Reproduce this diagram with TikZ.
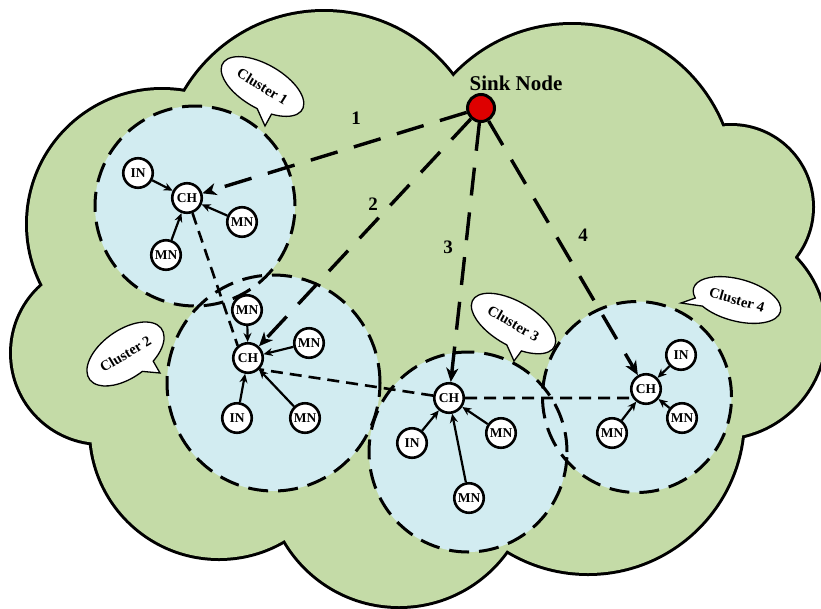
\documentclass[tikz,border=0pt]{standalone}
\usepackage{fontspec}
\setmainfont{Liberation Serif}
\usetikzlibrary{arrows.meta}
\definecolor{cloudgreen}{RGB}{196,219,167}
\definecolor{clusterblue}{RGB}{210,236,241}
\definecolor{sinkred}{RGB}{222,0,0}
\tikzset{
  nd/.style={circle, draw, line width=2.6pt, fill=white, minimum size=29.5pt, inner sep=0pt, font=\fontsize{13.5}{14}\selectfont\bfseries},
  clusterborder/.style={line width=3pt, dash pattern=on 20pt off 10pt},
  sinkline/.style={line width=3.4pt, dash pattern=on 28pt off 17pt, -{Stealth[length=14pt,width=12pt,inset=4pt]}},
  chline/.style={line width=2.6pt, dash pattern=on 12pt off 7pt},
  memberarrow/.style={line width=2.2pt, -{Stealth[length=9pt,width=8pt]}},
  bubble/.style={draw, line width=1.3pt, fill=white},
  bubbletext/.style={font=\fontsize{14.5}{15}\selectfont\bfseries},
  numlabel/.style={font=\fontsize{19}{19}\selectfont\bfseries},
}
\begin{document}
\begin{tikzpicture}[x=1pt,y=-1pt]
\useasboundingbox (0,0) rectangle (821,608);
% ---------- cloud: outline ----------
\begin{scope}[line width=6pt]
\draw (162,224) circle[radius=134pt];
\draw (324,173) circle[radius=161pt];
\draw (572,187) circle[radius=162pt];
\draw (731,207) circle[radius=81pt];
\draw (719,332) circle[radius=106pt];
\draw (588,418) circle[radius=155pt];
\draw (399,474) circle[radius=132pt];
\draw (219,430) circle[radius=128pt];
\draw (102,353) circle[radius=90pt];
\end{scope}
% ---------- cloud: fill ----------
\fill[cloudgreen] (185,92) -- (453,77) -- (722,127) -- (795,257) -- (742,435) -- (507,550) -- (285,540) -- (92,442) -- (43,285) -- cycle;
\fill[cloudgreen] (162,224) circle[radius=134pt];
\fill[cloudgreen] (324,173) circle[radius=161pt];
\fill[cloudgreen] (572,187) circle[radius=162pt];
\fill[cloudgreen] (731,207) circle[radius=81pt];
\fill[cloudgreen] (719,332) circle[radius=106pt];
\fill[cloudgreen] (588,418) circle[radius=155pt];
\fill[cloudgreen] (399,474) circle[radius=132pt];
\fill[cloudgreen] (219,430) circle[radius=128pt];
\fill[cloudgreen] (102,353) circle[radius=90pt];
% ---------- clusters ----------
\fill[clusterblue] (195,206) circle[radius=100pt];
\fill[clusterblue] (273.5,383) ellipse[x radius=106.5pt, y radius=108pt];
\fill[clusterblue] (468,452) ellipse[x radius=99pt, y radius=100pt];
\fill[clusterblue] (637,397) ellipse[x radius=94.5pt, y radius=95.5pt];
\draw[clusterborder] (195,206) circle[radius=100pt];
\draw[clusterborder] (273.5,383) ellipse[x radius=106.5pt, y radius=108pt];
\draw[clusterborder] (468,452) ellipse[x radius=99pt, y radius=100pt];
\draw[clusterborder] (637,397) ellipse[x radius=94.5pt, y radius=95.5pt];
% ---------- nodes ----------
\node[circle, draw, line width=3pt, fill=sinkred, minimum size=27pt, inner sep=0pt] (sink) at (481,108) {};
\node[font=\fontsize{21}{21}\selectfont\bfseries] (sinklabel) at (516,83) {Sink Node};

\node[nd] (c1ch) at (187,198) {CH};
\node[nd] (c1in) at (138,173) {IN};
\node[nd] (c1mn1) at (242,222) {MN};
\node[nd] (c1mn2) at (166,255) {MN};

\node[nd] (c2ch) at (248,358) {CH};
\node[nd] (c2mn1) at (247,310) {MN};
\node[nd] (c2mn2) at (309,343) {MN};
\node[nd] (c2in) at (237,418) {IN};
\node[nd] (c2mn3) at (305,418) {MN};

\node[nd] (c3ch) at (449,398) {CH};
\node[nd] (c3in) at (412,443) {IN};
\node[nd] (c3mn1) at (501,433) {MN};
\node[nd] (c3mn2) at (469,498) {MN};

\node[nd] (c4ch) at (646,389) {CH};
\node[nd] (c4in) at (681,355) {IN};
\node[nd] (c4mn1) at (682,418) {MN};
\node[nd] (c4mn2) at (612,433) {MN};
% ---------- sink links ----------
\draw[sinkline] (sink) -- (c1ch);
\draw[sinkline] (sink) -- (c2ch);
\draw[sinkline] (sink) -- (c3ch);
\draw[sinkline] (sink) -- (c4ch);
\node[numlabel] (n1) at (356,118) {1};
\node[numlabel] (n2) at (373,204) {2};
\node[numlabel] (n3) at (448,247) {3};
\node[numlabel] (n4) at (583,235) {4};
% ---------- CH links ----------
\draw[chline] (c1ch.-70) -- (c2ch.130);
\draw[chline] (c3ch) -- (c2ch.-45);
\draw[chline] (c3ch) -- (c4ch.214);
% ---------- member arrows ----------
\draw[memberarrow] (c1in) -- (c1ch);
\draw[memberarrow] (c1mn1) -- (c1ch);
\draw[memberarrow] (c1mn2) -- (c1ch);
\draw[memberarrow] (c2mn1) -- (c2ch);
\draw[memberarrow] (c2mn2) -- (c2ch);
\draw[memberarrow] (c2in) -- (c2ch);
\draw[memberarrow] (c2mn3) -- (c2ch);
\draw[memberarrow] (c3in) -- (c3ch);
\draw[memberarrow] (c3mn1) -- (c3ch);
\draw[memberarrow] (c3mn2) -- (c3ch);
\draw[memberarrow] (c4in) -- (c4ch);
\draw[memberarrow] (c4mn1) -- (c4ch);
\draw[memberarrow] (c4mn2) -- (c4ch);
% ---------- bubbles ----------
\coordinate (b1tip) at (265,126);
\begin{scope}[shift={(262.5,86.5)}, rotate=-30, x=1pt, y=1pt]
\draw[bubble] (-62:46pt and 22pt) arc[start angle=-62, end angle=278, x radius=46pt, y radius=22pt] -- (b1tip) -- cycle;
\end{scope}
\node[bubbletext, rotate=-32] (b1) at (262.5,86.5) {Cluster 1};

\coordinate (b2tip) at (160,373);
\begin{scope}[shift={(125.5,354)}, rotate=35, x=1pt, y=1pt]
\draw[bubble] (-65:44pt and 24pt) arc[start angle=-65, end angle=275, x radius=44pt, y radius=24pt] -- (b2tip) -- cycle;
\end{scope}
\node[bubbletext, rotate=31] (b2) at (125.5,354) {Cluster 2};

\coordinate (b3tip) at (514,361);
\begin{scope}[shift={(513.5,323.5)}, rotate=-30, x=1pt, y=1pt]
\draw[bubble] (-64:47pt and 22pt) arc[start angle=-64, end angle=276, x radius=47pt, y radius=22pt] -- (b3tip) -- cycle;
\end{scope}
\node[bubbletext, rotate=-30] (b3) at (513.5,323.5) {Cluster 3};

\coordinate (b4tip) at (681,303);
\begin{scope}[shift={(737,300)}, rotate=-15, x=1pt, y=1pt]
\draw[bubble] (225:45pt and 21pt) arc[start angle=225, end angle=565, x radius=45pt, y radius=21pt] -- (b4tip) -- cycle;
\end{scope}
\node[bubbletext, rotate=-16] (b4) at (737,300) {Cluster 4};
\end{tikzpicture}
\end{document}
